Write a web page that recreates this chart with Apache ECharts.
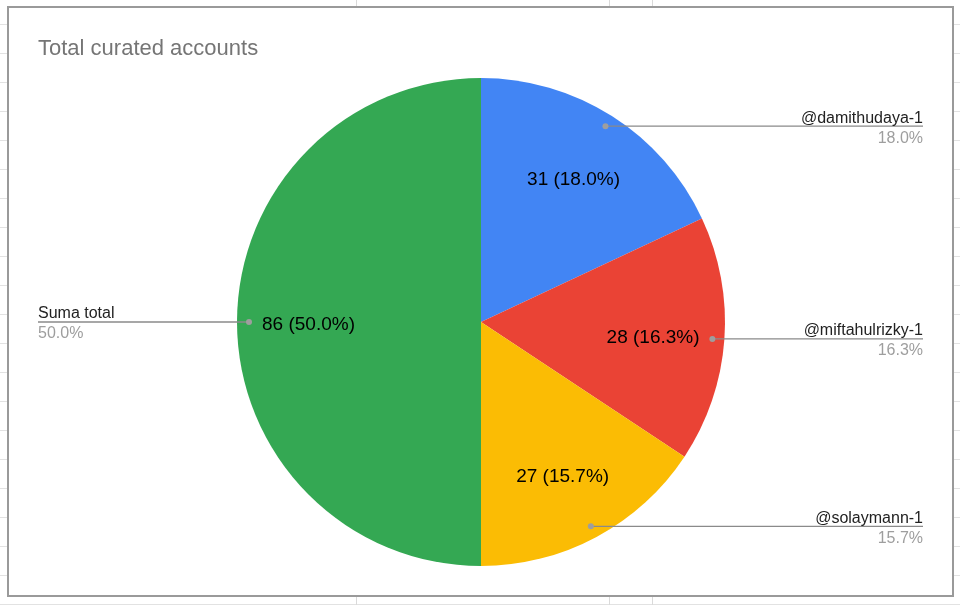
<!DOCTYPE html>
<html>
<head>
<meta charset="utf-8">
<script src="https://cdn.jsdelivr.net/npm/echarts@6/dist/echarts.min.js"></script>
<style>
  html, body { margin: 0; padding: 0; }
  body {
    width: 960px; height: 605px; overflow: hidden;
    background:
      linear-gradient(#dadada, #dadada) 356px 0 / 1px 100% no-repeat,
      linear-gradient(#dadada, #dadada) 609px 0 / 1px 100% no-repeat,
      linear-gradient(#dadada, #dadada) 652px 0 / 1px 100% no-repeat,
      linear-gradient(#e2e2e2 1px, transparent 1px) 0 24px / 100% 29px repeat-y,
      #fff;
  }
</style>
</head>
<body>
<div id="main" style="width: 960px; height: 605px"></div>
<script>
// datos del gráfico
const categories = ['@damithudaya-1', '@miftahulrizky-1', '@solaymann-1', 'Suma total'];
const values = [31, 28, 27, 86];
const colors = ['#4285f4', '#ea4335', '#fbbc04', '#34a853'];
const chartTitle = 'Total curated accounts';

const center = [481, 322];
const font = 'Liberation Sans, Arial, sans-serif';
const clear = { color: 'rgba(0,0,0,0)' };
const rightEdge = 923;
const leftEdge = 38;

const pieData = categories.map((name, i) => ({ name: name, value: values[i] }));
const pct = p => p.percent.toFixed(1) + '%';

// serie base del pie, las demás solo cambian radio y etiqueta
function pieSeries(radius, extra) {
  return Object.assign({
    type: 'pie',
    center: center,
    radius: radius,
    startAngle: 90,
    silent: true,
    avoidLabelOverlap: false,
    itemStyle: clear,
    labelLine: { show: false },
    data: pieData
  }, extra);
}

const myChart = echarts.init(document.getElementById('main'));
const option = {
  animation: false,
  title: {
    text: chartTitle,
    left: 33,
    top: 33,
    textStyle: { color: '#757575', fontWeight: 'normal', fontFamily: font, fontSize: 22 }
  },
  graphic: [{
    type: 'rect',
    z: -10,
    shape: { x: 8, y: 7, width: 945, height: 589 },
    style: { fill: '#fff', stroke: '#9a9a9a', lineWidth: 2 }
  }],
  color: colors,
  series: [
    // porciones
    pieSeries(244, {
      itemStyle: { borderWidth: 0 },
      label: { show: false }
    }),
    // etiquetas internas
    pieSeries([95, 244], {
      z: 4,
      label: {
        show: true,
        position: 'inside',
        formatter: p => p.value + ' (' + pct(p) + ')',
        color: '#000',
        fontFamily: font,
        fontSize: 19,
        textBorderWidth: 0
      },
      labelLayout: () => ({ dy: 3 })
    }),
    // guía + nombre y porcentaje
    pieSeries(232, {
      z: 5,
      label: {
        show: true,
        position: 'outside',
        formatter: p => '{n|' + p.name + '}\n{p|' + pct(p) + '}',
        rich: {
          n: { color: '#222', fontFamily: font, fontSize: 16, lineHeight: 20 },
          p: { color: '#9e9e9e', fontFamily: font, fontSize: 16, lineHeight: 20 }
        }
      },
      labelLine: { show: true, length: 0, length2: 0, lineStyle: { color: '#8a8a8a', width: 1.3 } },
      labelLayout: function (params) {
        const p0 = params.labelLinePoints[0];
        const right = p0[0] > center[0];
        const x = right ? rightEdge : leftEdge;
        return {
          x: x,
          y: p0[1] + 2,
          align: right ? 'right' : 'left',
          verticalAlign: 'middle',
          labelLinePoints: [p0, [x, p0[1]], [x, p0[1]]]
        };
      }
    }),
    // punto al inicio de la guía
    pieSeries(232, {
      z: 6,
      label: {
        show: true,
        position: 'outside',
        formatter: ' ',
        width: 6,
        height: 6,
        lineHeight: 6,
        fontSize: 6,
        padding: 0,
        backgroundColor: '#9e9e9e',
        borderRadius: 3
      },
      labelLine: { show: true, length: 0, length2: 0, lineStyle: { opacity: 0 } },
      labelLayout: function (params) {
        const p0 = params.labelLinePoints[0];
        return { x: p0[0], y: p0[1], align: 'center', verticalAlign: 'middle' };
      }
    })
  ]
};
myChart.setOption(option);
</script>
</body>
</html>
